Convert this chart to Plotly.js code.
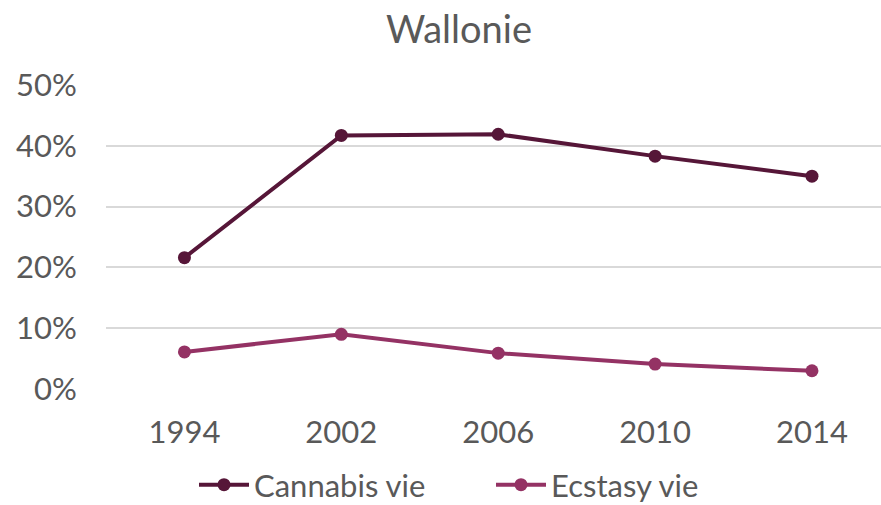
<!DOCTYPE html>
<html>
<head>
<meta charset="utf-8">
<script src="https://cdn.plot.ly/plotly-3.0.1.min.js"></script>
<style>html,body{margin:0;padding:0;background:#fff;}#chart{width:881px;height:505px;}</style>
</head>
<body>
<div id="chart"></div>
<script>
const years = ["1994", "2002", "2006", "2010", "2014"];
const cannabisVie = [0.216, 0.417, 0.419, 0.383, 0.350];
const ecstasyVie = [0.061, 0.090, 0.059, 0.041, 0.030];
const yTicks = [0, 0.1, 0.2, 0.3, 0.4, 0.5];
const yTickText = ["0%", "10%", "20%", "30%", "40%", "50%"];

const fontFam = "Lato, 'Open Sans', sans-serif";
const txt = "#595959";

const traces = [
  {x: years, y: cannabisVie, name: "Cannabis vie", type: "scatter", mode: "lines+markers",
   line: {color: "#561638", width: 4}, marker: {color: "#561638", size: 13}},
  {x: years, y: ecstasyVie, name: "Ecstasy vie", type: "scatter", mode: "lines+markers",
   line: {color: "#943264", width: 4}, marker: {color: "#943264", size: 13}}
];

const layout = {
  width: 881, height: 505,
  paper_bgcolor: "#fff", plot_bgcolor: "#fff",
  margin: {l: 106, r: 0, t: 85, b: 116},
  font: {family: fontFam, color: txt, size: 31},
  title: {text: "Wallonie", xref: "container", x: 459/881, xanchor: "center",
          yref: "container", y: 1 - 30/505, yanchor: "middle",
          font: {family: fontFam, color: txt, size: 38}},
  xaxis: {type: "category", range: [-0.5, 4.44], showgrid: false, zeroline: false,
          showline: false, ticks: "outside", ticklen: 16, tickcolor: "rgba(0,0,0,0)",
          tickfont: {size: 31, color: txt}},
  yaxis: {range: [0, 0.5], tickvals: yTicks, ticktext: yTickText, showgrid: true,
          gridcolor: "#d9d9d9", gridwidth: 2, zeroline: false, showline: false,
          ticks: "outside", ticklen: 22, tickcolor: "rgba(0,0,0,0)",
          tickfont: {size: 31, color: txt}},
  showlegend: true,
  legend: {orientation: "h", xref: "container", x: 491/881, xanchor: "center",
           yref: "container", y: 1 - 485/505, yanchor: "middle",
           font: {size: 31, color: txt}, itemwidth: 50, tracegroupgap: 0,
           entrywidth: 232, entrywidthmode: "pixels"}
};

Plotly.newPlot("chart", traces, layout, {displayModeBar: false, staticPlot: true});
</script>
</body>
</html>
